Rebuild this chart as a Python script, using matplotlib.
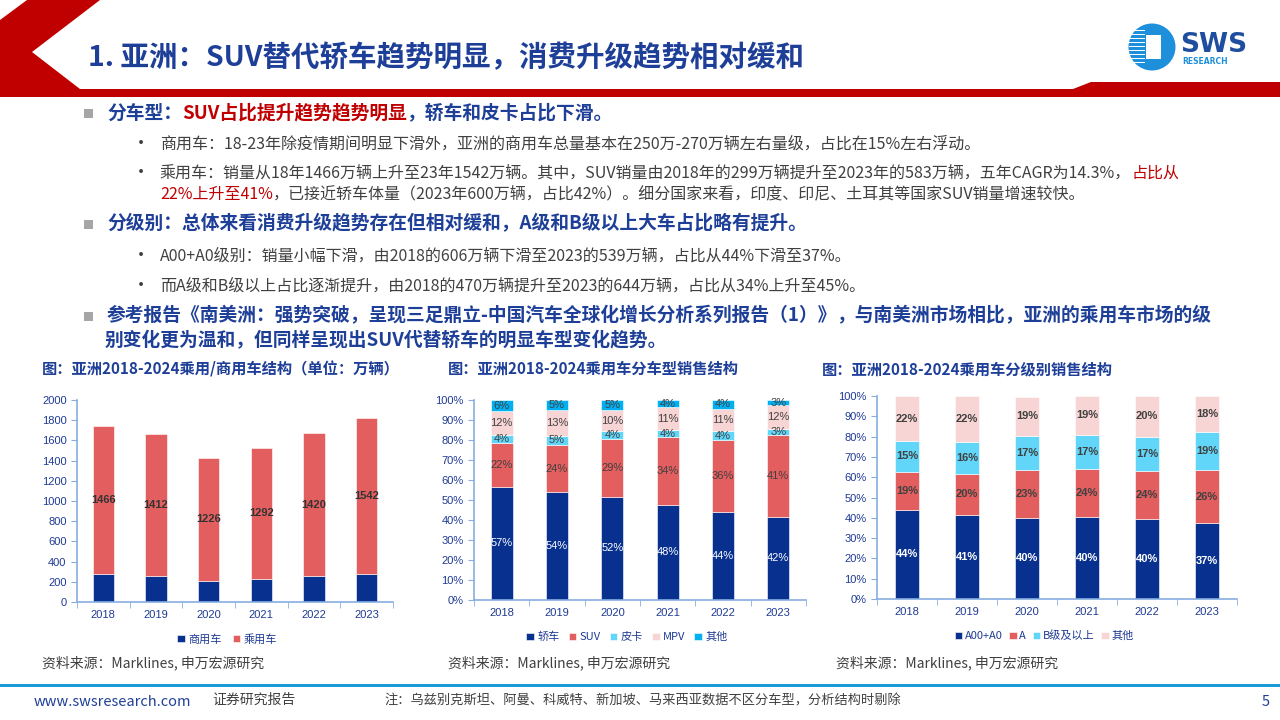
import numpy as np
import matplotlib.pyplot as plt
from matplotlib.patches import Polygon, Rectangle, Ellipse

plt.rcParams['font.family'] = ['Noto Sans CJK SC', 'DejaVu Sans']
NUM = ['Liberation Sans', 'Noto Sans CJK SC']

W, H = 1280, 720
BLUE = '#1E3F98'
RED = '#C00000'
GREY = '#404040'
AXC = '#86AEE0'
TICKC = '#1F3A93'

# ---- data ----
years = ['2018', '2019', '2020', '2021', '2022', '2023']
commercial = [280, 254, 204, 231, 254, 277]
passenger = [1466, 1412, 1226, 1292, 1420, 1542]

body_names = ['轿车', 'SUV', '皮卡', 'MPV', '其他']
sedan = [56.6, 53.8, 51.7, 47.6, 43.8, 41.7]
suv = [21.8, 23.7, 28.6, 33.7, 36.2, 40.6]
pickup = [4.0, 4.7, 4.2, 3.8, 4.4, 3.2]
mpv = [12.0, 12.6, 10.3, 11.2, 11.2, 11.8]
other_body = [5.6, 5.2, 5.2, 3.7, 4.4, 2.7]

class_names = ['A00+A0', 'A', 'B级及以上', '其他']
cls_a00 = [44.0, 41.4, 40.1, 40.4, 39.6, 37.4]
cls_a = [18.7, 20.2, 23.4, 23.6, 23.6, 26.1]
cls_b = [15.1, 15.9, 16.8, 17.0, 16.8, 18.6]
cls_other = [22.2, 22.4, 19.4, 19.0, 20.0, 17.9]

C_DARK = '#07308F'
C_RED = '#E35F5F'
C_CYAN = '#62D6F8'
C_PINK = '#F8D5D5'
C_SKY = '#00B0F0'

fig = plt.figure(figsize=(12.8, 7.2), dpi=100)
fig.patch.set_facecolor('white')


def fx(x):
    return x / W


def fy(y):
    return 1 - y / H


def ptext(x, y, s, **kw):
    kw.setdefault('va', 'center')
    return fig.text(fx(x), fy(y), s, **kw)


renderer = fig.canvas.get_renderer()


def rich(x, y, parts, size):
    for s, color, weight in parts:
        t = ptext(x, y, s, color=color, fontsize=size, fontweight=weight)
        x += t.get_window_extent(renderer=renderer).width


def pix_poly(pts, color):
    p = Polygon([(fx(a), fy(b)) for a, b in pts], closed=True,
                transform=fig.transFigure, facecolor=color, edgecolor='none')
    fig.patches.append(p)

# ---- header ----
pix_poly([(27, 0), (100, 0), (32, 52), (80, 89), (1073, 89), (1091, 82),
          (1280, 82), (1280, 97), (0, 97), (0, 20)], RED)
ptext(88, 58, '1. 亚洲：SUV替代轿车趋势明显，消费升级趋势相对缓和',
      color=BLUE, fontsize=20.5, fontweight='bold')

# logo
fig.patches.append(Ellipse((fx(1152), fy(47)), 47 / W, 47 / H, transform=fig.transFigure,
                           facecolor='#1E8FDA', edgecolor='none'))
for yy in range(30, 66, 4):
    fig.patches.append(Rectangle((fx(1129), fy(yy + 1.3)), 16 / W, 1.3 / H,
                                 transform=fig.transFigure, facecolor='white'))
fig.patches.append(Rectangle((fx(1146), fy(59)), 15 / W, 24 / H,
                             transform=fig.transFigure, facecolor='white'))
ptext(1180, 45, 'SWS', color='#1F4E9E', fontsize=19, fontweight='bold', family='DejaVu Sans')
ptext(1182, 61, 'RESEARCH', color='#1E8FDA', fontsize=5.5, fontweight='bold', family='DejaVu Sans')

# ---- body text ----
def square(y):
    fig.patches.append(Rectangle((fx(84), fy(y + 4.5)), 9 / W, 9 / H,
                                 transform=fig.transFigure, facecolor='#A6A6A6'))


def dot(y):
    ptext(132, y, '•', color=GREY, fontsize=13)


square(113)
rich(107, 113, [('分车型：', BLUE, 'bold'), ('SUV占比提升趋势趋势明显', RED, 'bold'),
                ('，轿车和皮卡占比下滑。', BLUE, 'bold')], 13.5)
dot(144)
rich(160, 144, [('商用车：18-23年除疫情期间明显下滑外，亚洲的商用车总量基本在250万-270万辆左右量级，占比在15%左右浮动。', GREY, 'normal')], 11.5)
dot(173)
rich(160, 173, [('乘用车：销量从18年1466万辆上升至23年1542万辆。其中，SUV销量由2018年的299万辆提升至2023年的583万辆，五年CAGR为14.3%，', GREY, 'normal'),
                ('占比从', RED, 'normal')], 11.5)
rich(160, 194, [('22%上升至41%', RED, 'normal'),
                ('，已接近轿车体量（2023年600万辆，占比42%）。细分国家来看，印度、印尼、土耳其等国家SUV销量增速较快。', GREY, 'normal')], 11.5)
square(224)
rich(107, 224, [('分级别：总体来看消费升级趋势存在但相对缓和，A级和B级以上大车占比略有提升。', BLUE, 'bold')], 13.5)
dot(256)
rich(160, 256, [('A00+A0级别：销量小幅下滑，由2018的606万辆下滑至2023的539万辆，占比从44%下滑至37%。', GREY, 'normal')], 11.5)
dot(286)
rich(160, 286, [('而A级和B级以上占比逐渐提升，由2018的470万辆提升至2023的644万辆，占比从34%上升至45%。', GREY, 'normal')], 11.5)
square(316)
rich(107, 316, [('参考报告《南美洲：强势突破，呈现三足鼎立-中国汽车全球化增长分析系列报告（1）》', BLUE, 'bold'),
                ('，与南美洲市场相比，亚洲的乘用车市场的级', BLUE, 'bold')], 13.5)
rich(105, 341, [('别变化更为温和，但同样呈现出SUV代替轿车的明显车型变化趋势。', BLUE, 'bold')], 13.5)

# chart titles
ptext(42, 369, '图：亚洲2018-2024乘用/商用车结构（单位：万辆）', color=BLUE, fontsize=11, fontweight='bold')
ptext(448, 369, '图：亚洲2018-2024乘用车分车型销售结构', color=BLUE, fontsize=11, fontweight='bold')
ptext(822, 369, '图：亚洲2018-2024乘用车分级别销售结构', color=BLUE, fontsize=11, fontweight='bold')


# ---- charts ----
def make_ax(left, right, top, bottom):
    ax = fig.add_axes([fx(left), fy(bottom), (right - left) / W, (bottom - top) / H])
    for s in ['top', 'right']:
        ax.spines[s].set_visible(False)
    for s in ['left', 'bottom']:
        ax.spines[s].set_color(AXC)
        ax.spines[s].set_linewidth(1.2)
    ax.set_xlim(-0.5, 5.5)
    ax.set_xticks(range(6))
    ax.set_xticklabels(years, family=NUM, fontsize=8, color=TICKC)
    ax.set_xticks(np.arange(-0.5, 6, 1), minor=True)
    ax.tick_params(axis='x', which='major', length=0, pad=6)
    ax.tick_params(axis='x', which='minor', length=4, color=AXC, direction='out')
    ax.tick_params(axis='y', length=4, color=AXC, labelsize=8, labelcolor=TICKC)
    ax.set_facecolor('none')
    return ax


x = np.arange(len(years))

# chart 1
ax1 = make_ax(77, 393, 400, 602)
ax1.bar(x, commercial, 0.41, color=C_DARK, edgecolor='white', linewidth=0.4, label='商用车')
ax1.bar(x, passenger, 0.41, bottom=commercial, color=C_RED, edgecolor='white', linewidth=0.4, label='乘用车')
ax1.set_ylim(0, 2000)
ax1.set_yticks(range(0, 2001, 200))
for lab in ax1.get_yticklabels():
    lab.set_family(NUM)
for i in range(len(years)):
    ax1.text(x[i], commercial[i] + passenger[i] / 2, str(passenger[i]), ha='center', va='center',
             fontsize=8, fontweight='bold', color='#333333', family=NUM)
ax1.legend(loc='center', bbox_to_anchor=(fx(227), fy(639)), bbox_transform=fig.transFigure,
           ncol=2, frameon=False, fontsize=8, handlelength=0.7, handleheight=0.7,
           handletextpad=0.3, columnspacing=1.0, labelcolor=TICKC)


def stacked(ax, series, colors, names, label_colors, weight, width):
    bottom = np.zeros(len(years))
    for vals, col, name, lc in zip(series, colors, names, label_colors):
        vals = np.array(vals)
        ax.bar(x, vals, width, bottom=bottom, color=col, edgecolor='white', linewidth=0.4, label=name)
        for i in range(len(years)):
            ax.text(x[i], bottom[i] + vals[i] / 2, '%.0f%%' % vals[i], ha='center', va='center',
                    fontsize=8, color=lc, family=NUM, fontweight=weight)
        bottom += vals
    ax.set_ylim(0, 100)
    ax.set_yticks(range(0, 101, 10))
    ax.set_yticklabels(['%d%%' % v for v in range(0, 101, 10)], family=NUM)


# chart 2
ax2 = make_ax(474, 806, 400, 600)
stacked(ax2, [sedan, suv, pickup, mpv, other_body], [C_DARK, C_RED, C_CYAN, C_PINK, C_SKY],
        body_names, ['white', GREY, GREY, GREY, GREY], 'normal', 0.40)
ax2.legend(loc='center', bbox_to_anchor=(fx(627), fy(637)), bbox_transform=fig.transFigure,
           ncol=5, frameon=False, fontsize=8, handlelength=0.7, handleheight=0.7,
           handletextpad=0.3, columnspacing=0.8, labelcolor=TICKC)

# chart 3
ax3 = make_ax(877, 1237, 396, 599)
stacked(ax3, [cls_a00, cls_a, cls_b, cls_other], [C_DARK, C_RED, C_CYAN, C_PINK],
        class_names, ['white', GREY, GREY, GREY], 'bold', 0.40)
ax3.legend(loc='center', bbox_to_anchor=(fx(1044), fy(636)), bbox_transform=fig.transFigure,
           ncol=4, frameon=False, fontsize=8, handlelength=0.7, handleheight=0.7,
           handletextpad=0.2, columnspacing=0.6, labelcolor=TICKC)

# sources
for sx in [42, 448, 836]:
    ptext(sx, 663, '资料来源：Marklines, 申万宏源研究', color=GREY, fontsize=10)

# ---- footer ----
fig.patches.append(Rectangle((0, fy(687)), 1, 3 / H, transform=fig.transFigure,
                             facecolor='#1A9BD7', edgecolor='none'))
ptext(34, 702, 'www.swsresearch.com', color='#1F3F99', fontsize=10.5)
ptext(212, 700, '证券研究报告', color=GREY, fontsize=10)
ptext(384, 701, '注：乌兹别克斯坦、阿曼、科威特、新加坡、马来西亚数据不区分车型，分析结构时剔除', color=GREY, fontsize=9.5)
ptext(1262, 702, '5', color='#1F3F99', fontsize=10.5)

fig.savefig('out.png', dpi=100)
